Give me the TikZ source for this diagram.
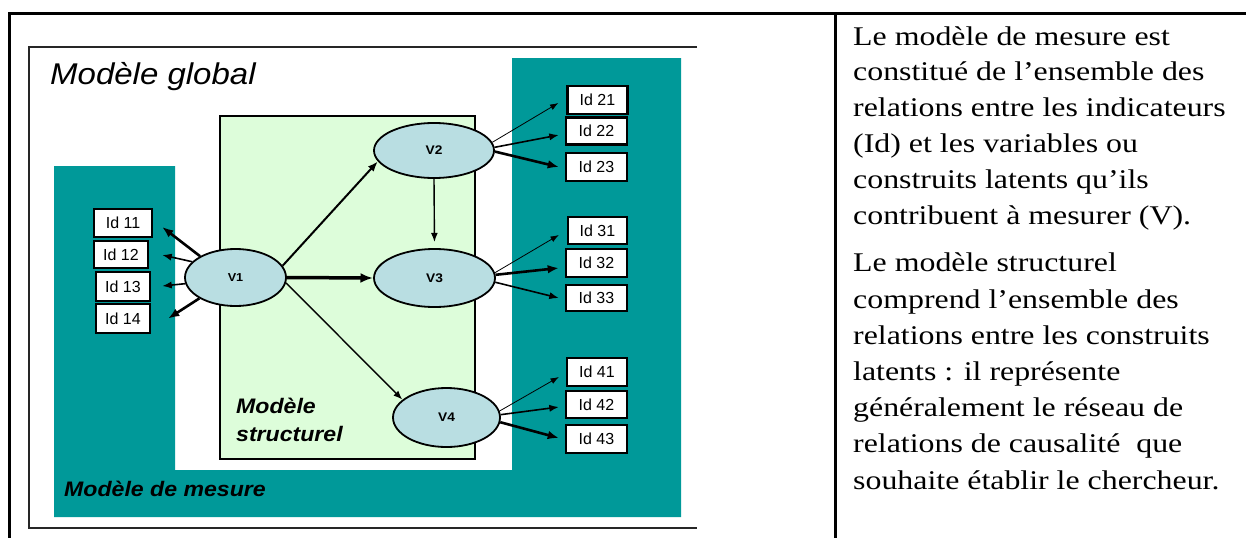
\documentclass[tikz,border=0pt]{standalone}
\usepackage{fontspec}
\setmainfont{Liberation Serif}
\newfontfamily\rtxt[FakeStretch=1.18]{Liberation Serif}
\newfontfamily\swide[FakeStretch=1.1]{Liberation Sans}
\newfontfamily\sidf{Liberation Sans}
\usetikzlibrary{arrows.meta,calc,shapes.geometric}
\definecolor{mteal}{RGB}{0,153,153}
\definecolor{mgreen}{RGB}{221,253,218}
\definecolor{eblue}{RGB}{185,222,226}
\begin{document}
\begin{tikzpicture}[x=1pt,y=-1pt,
  idbox/.style={draw, line width=2.3pt, fill=white, inner sep=0pt, font=\sidf\fontsize{16}{19}\selectfont},
  latent/.style={ellipse, draw, line width=1.8pt, fill=eblue, inner sep=0pt, font=\swide\bfseries\fontsize{12.5}{14}\selectfont},
  arr/.style={-{Latex[length={7pt 1.6},width={5pt 1.4}]}},
  athin/.style={arr, line width=0.8pt},
  amed/.style={arr, line width=1.6pt},
  athick/.style={arr, line width=2.6pt},
  table/.style={line width=3pt},
  frame/.style={line width=1.5pt, draw=black!85},
  bigtitle/.style={anchor=base west, inner sep=0pt, font=\swide\itshape\fontsize{30}{36}\selectfont},
  subtitle/.style={anchor=base west, inner sep=0pt, align=left, font=\swide\bfseries\itshape\fontsize{21}{28}\selectfont},
  para/.style={anchor=base west, inner sep=0pt, align=left, font=\rtxt\fontsize{27}{35.8}\selectfont}
]
\useasboundingbox (0,0) rectangle (1246,538);
% table lines
\draw[table] (8,13) -- (1246,13);
\draw[table] (9,13) -- (9,538);
\draw[table] (835,13) -- (835,538);
% inner frame (open on the right)
\draw[frame] (697,47) -- (29,47) -- (29,528) -- (697,528);
% measurement model (teal)
\fill[mteal] (54,166) -- (175,166) -- (175,470) -- (512,470) -- (512,58) -- (681,58) -- (681,517) -- (54,517) -- cycle;
% structural model (green)
\draw[fill=mgreen, line width=1.6pt] (220,116) rectangle (475,459);
% titles
\node[bigtitle] (tglob) at (50,84) {Modèle global};
\node[subtitle] (tmes) at (64,496) {Modèle de mesure};
\node[subtitle] (tstr) at (236,441) {Modèle\\structurel};
% latent variables
\node[latent, minimum width=101pt, minimum height=57pt, font=\swide\bfseries\fontsize{11.5}{13}\selectfont] (V1) at (235.5,277.5) {V1};
\node[latent, minimum width=120pt, minimum height=55pt] (V2) at (434,150.5) {V2};
\node[latent, minimum width=121pt, minimum height=58pt] (V3) at (434.5,278) {V3};
\node[latent, minimum width=107pt, minimum height=59pt] (V4) at (446.5,417.5) {V4};
% indicators
\node[idbox, minimum width=58pt, minimum height=28pt] (Id11) at (123,223) {Id 11};
\node[idbox, minimum width=54pt, minimum height=27pt] (Id12) at (121,254.5) {Id 12};
\node[idbox, minimum width=54pt, minimum height=29pt] (Id13) at (123,286.5) {Id 13};
\node[idbox, minimum width=54pt, minimum height=29pt] (Id14) at (123,318.5) {Id 14};
\node[idbox, minimum width=60pt, minimum height=28pt] (Id21) at (597.5,100) {Id 21};
\node[idbox, minimum width=61pt, minimum height=27pt] (Id22) at (596.5,131) {Id 22};
\node[idbox, minimum width=61pt, minimum height=28pt] (Id23) at (596.5,167) {Id 23};
\node[idbox, minimum width=59pt, minimum height=27pt] (Id31) at (597.5,230.5) {Id 31};
\node[idbox, minimum width=61pt, minimum height=28pt] (Id32) at (596.5,263) {Id 32};
\node[idbox, minimum width=61pt, minimum height=26pt] (Id33) at (596.5,298) {Id 33};
\node[idbox, minimum width=60pt, minimum height=28pt] (Id41) at (597,372) {Id 41};
\node[idbox, minimum width=61pt, minimum height=27pt] (Id42) at (596.5,404.5) {Id 42};
\node[idbox, minimum width=61pt, minimum height=28pt] (Id43) at (596.5,439) {Id 43};
% measurement arrows
\draw[athick] (V1.149) -- ($(Id11.east)+(9,4)$);
\draw[amed]   (V1.160) -- ($(Id12.east)+(13,0.5)$);
\draw[amed]   (V1.187) -- ($(Id13.east)+(11,-0.5)$);
\draw[athick] (V1.210) -- ($(Id14.east)+(17,0)$);
\draw[athin]  (V2.8)  -- ($(Id21.west)+(-8,3)$);
\draw[amed]   (V2.3)  -- ($(Id22.west)+(-6,4)$);
\draw[athick] (V2.-1) -- ($(Id23.west)+(-6,0)$);
\draw[athin]  (V3.5)  -- ($(Id31.west)+(-8,4.5)$);
\draw[athick] (V3.3)  -- ($(Id32.west)+(-6,5)$);
\draw[amed]   (V3.-4) -- ($(Id33.west)+(-6,0)$);
\draw[athin]  (V4.7)  -- ($(Id41.west)+(-7,5)$);
\draw[amed]   (V4.3)  -- ($(Id42.west)+(-6,2.5)$);
\draw[athick] (V4.-5) -- ($(Id43.west)+(-6,-1)$);
% structural arrows
\draw[amed, line width=2pt] (V1.14) -- (V2.191);
\draw[arr, line width=3.5pt] (V1.east) -- (V3.west);
\draw[amed, line width=1.4pt] (V1.-6) -- (V4.158);
\draw[amed, line width=1.4pt, shorten >=6pt] (V2.south) -- (V3.north);
% explanatory text (anchored at the baseline of the last line)
\node[para] (p1) at (853,224) {Le modèle de mesure est\\constitué de l’ensemble des\\relations entre les indicateurs\\(Id) et les variables ou\\construits latents qu’ils\\contribuent à mesurer (V).};
\node[para, font=\rtxt\fontsize{27}{36.2}\selectfont] (p2) at (853,489) {Le modèle structurel\\comprend l’ensemble des\\relations entre les construits\\latents : il représente\\généralement le réseau de\\relations de causalité~ que\\souhaite établir le chercheur.};
\end{tikzpicture}
\end{document}
